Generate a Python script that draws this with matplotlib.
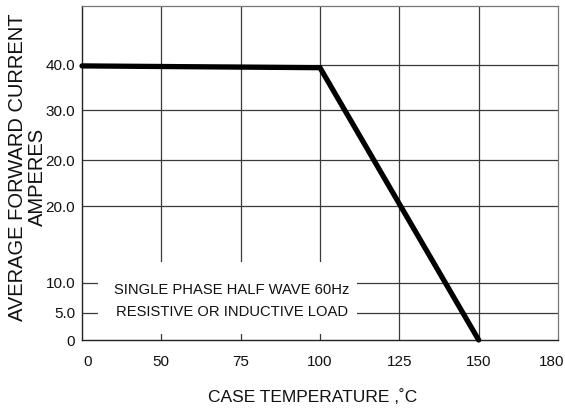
import numpy as np
import matplotlib
matplotlib.use("Agg")
import matplotlib.pyplot as plt
import matplotlib.transforms as mtransforms
from matplotlib.patches import Rectangle

plt.rcParams["font.family"] = ["Liberation Sans", "DejaVu Sans"]

# ---------------------------------------------------------------------------
# Data
# ---------------------------------------------------------------------------
temp_ticks = [0, 50, 75, 100, 125, 150, 180]            # printed x labels, evenly spaced
current_labels = ["0", "5.0", "10.0", "20.0", "20.0", "30.0", "40.0"]
current_values = [0, 5, 10, 20, 20, 30, 40]

curve_temp = [0, 100, 150]          # case temperature, degC
curve_current = [39.8, 39.4, 0.0]   # average forward current, A

note_lines = ["SINGLE PHASE HALF WAVE 60Hz", "RESISTIVE OR INDUCTIVE LOAD"]

# printed grid is not linear: row heights of each y label on the sheet
row_pos = [0, 27, 57, 134, 180, 230, 275]
y_top = 334
x_pos = np.arange(len(temp_ticks))

# ---------------------------------------------------------------------------
# Plot
# ---------------------------------------------------------------------------
fig = plt.figure(figsize=(5.65, 4.12), dpi=100)
ax = fig.add_axes([82 / 565, 72 / 412, 476 / 565, 334 / 412])
ax.set_xlim(0, len(temp_ticks) - 1)
ax.set_ylim(0, y_top)

grid_kw = dict(color="#3a3a3a", lw=0.9, zorder=0.5)
for p in x_pos[1:-1]:
    ax.axvline(p, **grid_kw)
for p in row_pos[1:]:
    ax.axhline(p, **grid_kw)

# white note box that blanks out the grid
ax.add_patch(Rectangle((0.2, 6), 3.27, 72, facecolor="white",
                       edgecolor="none", zorder=1))
ax.text(1.89, 50, note_lines[0], ha="center", va="center",
        fontsize=10.6, color="#111111", zorder=3)
ax.text(1.89, 28, note_lines[1], ha="center", va="center",
        fontsize=10.6, color="#111111", zorder=3)

# derating curve, mapped onto the printed grid
cx = np.interp(curve_temp, temp_ticks, x_pos)
cy = np.interp(curve_current, current_values, row_pos)
ax.plot(cx, cy, color="black", lw=3.8, solid_capstyle="round",
        solid_joinstyle="miter", clip_on=False, zorder=4)

ax.set_xticks(x_pos)
ax.set_xticklabels([str(t) for t in temp_ticks])
ax.set_yticks(row_pos)
ax.set_yticklabels(current_labels)
ax.tick_params(length=0, labelsize=11, labelcolor="#111111")
ax.tick_params(axis="x", pad=11)
ax.tick_params(axis="y", pad=5)
xl = ax.get_xticklabels()
xl[0].set_transform(xl[0].get_transform() +
                    mtransforms.ScaledTranslation(6 / 100, 0, fig.dpi_scale_trans))
xl[-1].set_transform(xl[-1].get_transform() +
                     mtransforms.ScaledTranslation(-6 / 100, 0, fig.dpi_scale_trans))

for side in ["left", "bottom"]:
    ax.spines[side].set_color("#222222")
    ax.spines[side].set_linewidth(1.0)
for side in ["top", "right"]:
    ax.spines[side].set_color("#777777")
    ax.spines[side].set_linewidth(0.9)

fig.text(18 / 565, 1 - 167 / 412, "AVERAGE FORWARD CURRENT", rotation=90,
         ha="center", va="center", fontsize=14.5, color="#111111")
fig.text(37 / 565, 1 - 177 / 412, "AMPERES", rotation=90,
         ha="center", va="center", fontsize=14.5, color="#111111")
fig.text(313 / 565, 1 - 397 / 412, "CASE TEMPERATURE ,\u02daC",
         ha="center", va="center", fontsize=12.5, color="#111111")

fig.savefig("out.png", dpi=100)
